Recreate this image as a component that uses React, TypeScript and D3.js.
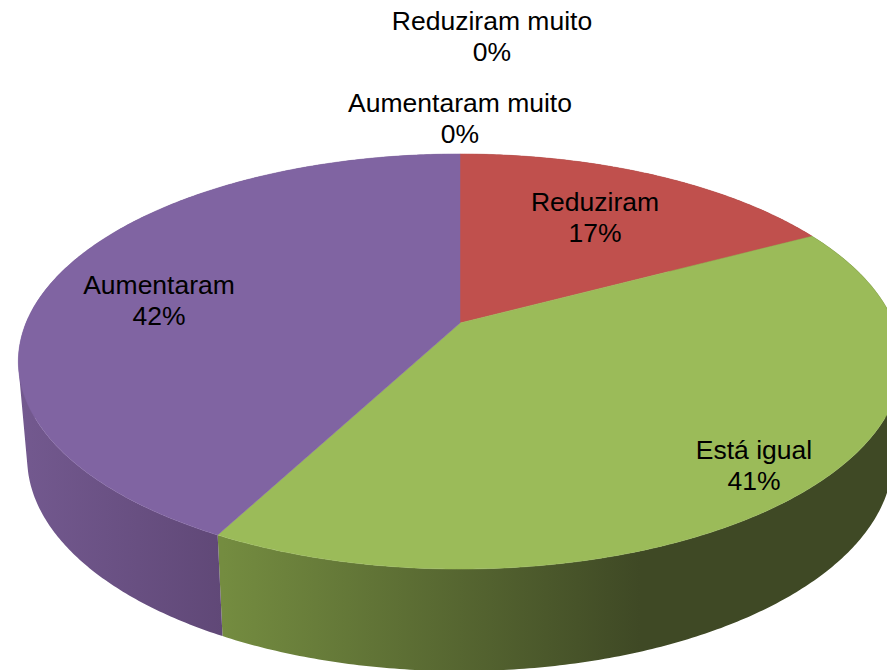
import { useEffect, useRef } from 'react';
import * as d3 from 'd3';

const categories = ['Reduziram muito', 'Reduziram', 'Está igual', 'Aumentaram', 'Aumentaram muito'];
const shares = [0, 17.2, 40.53, 42.27, 0];
const percentLabels = ['0%', '17%', '41%', '42%', '0%'];

const topColors = ['#4f81bd', '#c0504d', '#9bbb59', '#8064a2', '#4bacc6'];
const wallStops: Record<string, [string, string]> = {
  Reduziram: ['#7a3230', '#7a3230'],
  'Está igual': ['#748c40', '#3f4925'],
  Aumentaram: ['#73598f', '#604877'],
};
const wallExtent: Record<string, [number, number]> = {
  Reduziram: [460, 812],
  'Está igual': [223, 640],
  Aumentaram: [20, 223],
};
const labelBaselines: Record<string, [number, number]> = {
  'Reduziram muito': [492, 30],
  Reduziram: [595, 211],
  'Está igual': [754, 459],
  Aumentaram: [159, 294],
  'Aumentaram muito': [460, 112],
};

const width = 887;
const height = 670;
const apex = { x: 460, y: 323 };
const radiusX = 434;
const radiusY = 200.4;
const tilt = 0.1855;
const depth = 95.5;
const wallShrinkX = 0.98;
const wallGrowY = 1.0265;

const App = () => {
  const svgRef = useRef<SVGSVGElement>(null);

  useEffect(() => {
    const svg = d3.select(svgRef.current);
    svg.selectAll('*').remove();

    const x = d3.scaleLinear().domain([-1, 1]).range([apex.x - radiusX, apex.x + radiusX]);
    const y = d3.scaleLinear().domain([-1, 1]).range([apex.y - radiusY, apex.y + radiusY]);
    const xLow = d3.scaleLinear().domain([-1, 1])
      .range([apex.x - radiusX * wallShrinkX, apex.x + radiusX * wallShrinkX]);
    const yLow = d3.scaleLinear().domain([-1, 1])
      .range([apex.y + depth - radiusY * wallGrowY, apex.y + depth + radiusY * wallGrowY]);

    // circle in the plane of the pie, seen in perspective
    const project = (angle: number, sx: typeof x, sy: typeof y): [number, number] => {
      const u = Math.sin(angle);
      const v = -Math.cos(angle);
      const w = 1 - tilt * v;
      return [sx(u / w), sy(v / w)];
    };

    const arcAngles = (a0: number, a1: number) => {
      const n = Math.max(2, Math.ceil((a1 - a0) / 0.01));
      return d3.range(n + 1).map(i => a0 + ((a1 - a0) * i) / n);
    };

    const pie = d3.pie<number>().sort(null).value(d => d)(shares);
    const line = d3.line();

    const defs = svg.append('defs');
    pie.forEach((p, i) => {
      const name = categories[i];
      if (p.endAngle === p.startAngle) return;
      const grad = defs.append('linearGradient')
        .attr('id', `wall-${i}`)
        .attr('gradientUnits', 'userSpaceOnUse')
        .attr('x1', wallExtent[name][0]).attr('x2', wallExtent[name][1])
        .attr('y1', 0).attr('y2', 0);
      grad.append('stop').attr('offset', 0).attr('stop-color', wallStops[name][0]);
      grad.append('stop').attr('offset', 1).attr('stop-color', wallStops[name][1]);
    });

    const visible = pie.map((p, i) => ({ p, i })).filter(d => d.p.endAngle > d.p.startAngle);

    // walls are strips of quads, all wound the same way so the overlaps stay filled
    const walls = svg.append('g');
    visible.forEach(({ p, i }) => {
      const angles = arcAngles(p.startAngle, p.endAngle);
      const strips = d3.pairs(angles).map(([a0, a1]) => {
        const quad: [number, number][] = [
          project(a0, x, y), project(a1, x, y),
          project(a1, xLow, yLow), project(a0, xLow, yLow),
        ];
        if (d3.polygonArea(quad) < 0) quad.reverse();
        return line(quad) + 'Z';
      });
      walls.append('path')
        .attr('d', strips.join(''))
        .attr('fill', `url(#wall-${i})`);
    });

    const faces = svg.append('g');
    visible.forEach(({ p, i }) => {
      const rim = arcAngles(p.startAngle, p.endAngle).map(a => project(a, x, y));
      faces.append('path')
        .attr('d', line([[apex.x, apex.y], ...rim]) + 'Z')
        .attr('fill', topColors[i])
        .attr('stroke', topColors[i])
        .attr('stroke-width', 0.5);
    });

    const labels = svg.append('g')
      .attr('font-family', '"Liberation Sans", Arial, sans-serif')
      .attr('font-size', 26.5)
      .attr('fill', '#000')
      .attr('text-anchor', 'middle');
    categories.forEach((name, i) => {
      const [cx, baseline] = labelBaselines[name];
      labels.append('text').attr('x', cx).attr('y', baseline).text(name);
      labels.append('text').attr('x', cx).attr('y', baseline + 31).text(percentLabels[i]);
    });
  }, []);

  return (
    <svg
      ref={svgRef}
      width={width}
      height={height}
      style={{ position: 'absolute', left: 0, top: 0, background: '#fff' }}
    />
  );
};

export default App;
